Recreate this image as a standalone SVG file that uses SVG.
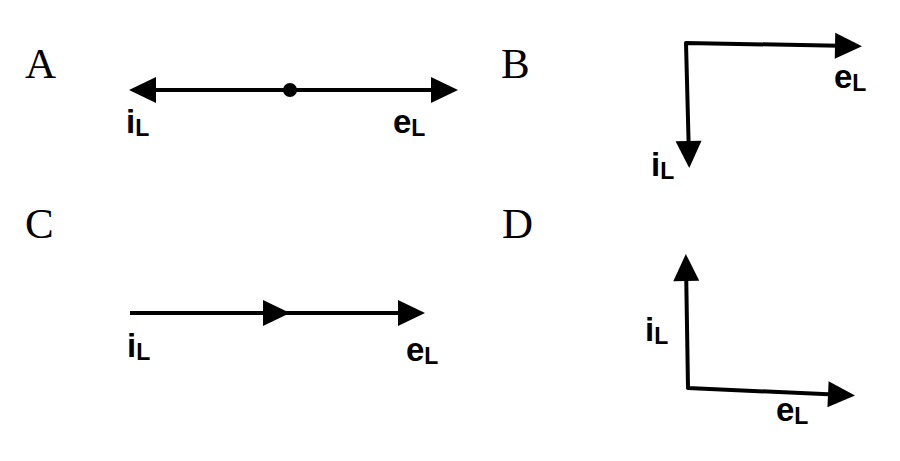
<svg xmlns="http://www.w3.org/2000/svg" width="900" height="461" viewBox="0 0 900 461">
<style>
.panel{font-family:"Liberation Serif","Times New Roman",serif;font-size:43px;fill:#000}
.lbl{font-family:"Liberation Sans",Arial,sans-serif;font-size:33px;font-weight:bold;fill:#000}
.sub{font-size:23px}
.vec{fill:none;stroke:#000;stroke-width:4;stroke-linejoin:round}
</style>
<defs>
<marker id="ah" markerUnits="userSpaceOnUse" markerWidth="27" markerHeight="26" refX="17" refY="13" orient="auto-start-reverse" overflow="visible">
<path d="M0,0 L27,13 L0,26 z" fill="#000"/>
</marker>
</defs>
<rect width="900" height="461" fill="#fff"/>
<g id="connectors">
<path class="vec" d="M139,90 L448,90" marker-start="url(#ah)" marker-end="url(#ah)"/>
<circle cx="290" cy="90" r="7" fill="#000"/>
<path class="vec" d="M689,158 L686,43 L852,46" marker-start="url(#ah)" marker-end="url(#ah)"/>
<path class="vec" d="M130,313 L280,313 L415,313" marker-mid="url(#ah)" marker-end="url(#ah)"/>
<path class="vec" d="M686,264 L688,388 L845,395" marker-start="url(#ah)" marker-end="url(#ah)"/>
</g>
<g id="panelA">
<text class="panel" x="25" y="78">A</text>
<text class="lbl" x="126" y="133">i<tspan class="sub" dy="3">L</tspan></text>
<text class="lbl" x="393" y="133">e<tspan class="sub" dy="3">L</tspan></text>
</g>
<g id="panelB">
<text class="panel" x="501" y="78">B</text>
<text class="lbl" x="834" y="88">e<tspan class="sub" dy="3">L</tspan></text>
<text class="lbl" x="651" y="176">i<tspan class="sub" dy="3">L</tspan></text>
</g>
<g id="panelC">
<text class="panel" x="25" y="238">C</text>
<text class="lbl" x="127" y="357">i<tspan class="sub" dy="3">L</tspan></text>
<text class="lbl" x="406" y="361">e<tspan class="sub" dy="3">L</tspan></text>
</g>
<g id="panelD">
<text class="panel" x="502" y="238">D</text>
<text class="lbl" x="645" y="341">i<tspan class="sub" dy="3">L</tspan></text>
<text class="lbl" x="776" y="421">e<tspan class="sub" dy="3">L</tspan></text>
</g>
</svg>
